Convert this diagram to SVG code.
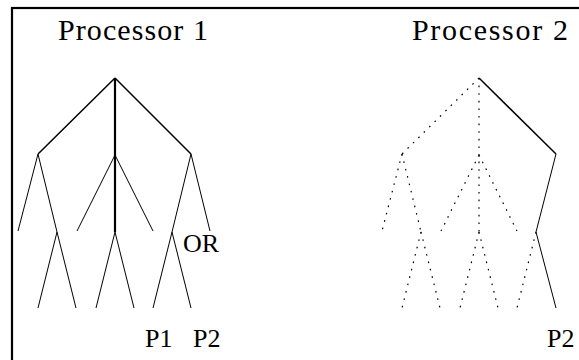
<svg xmlns="http://www.w3.org/2000/svg" width="579" height="360" viewBox="0 0 579 360">
<style>
  .title { font-size: 30px; }
  .lbl { font-size: 26px; }
  .e { stroke: #000; stroke-width: 1; fill: none; stroke-linecap: butt; }
  .e2 { stroke: #000; stroke-width: 1.5; fill: none; }
  .e3 { stroke: #000; stroke-width: 2.2; fill: none; }
  .d { stroke: #000; stroke-width: 1.2; fill: none; stroke-dasharray: 1.6 6; }
</style>
<rect width="579" height="360" fill="#fff"/>
<rect id="frame" x="12" y="8" width="640" height="420" fill="none" stroke="#000" stroke-width="2.2"/>

<g font-family="'Liberation Serif', 'DejaVu Serif', serif" fill="#000">
<g id="processor1-title"><text class="title" x="58" y="40" textLength="150" lengthAdjust="spacing">Processor 1</text></g>
<g id="processor2-title"><text class="title" x="412" y="40" textLength="156" lengthAdjust="spacing">Processor 2</text></g>
<g id="or-label"><text class="lbl" x="183" y="252">OR</text></g>
<g id="p1-label"><text class="lbl" x="145" y="347">P1</text></g>
<g id="p2-label"><text class="lbl" x="193" y="347">P2</text></g>
<g id="p2-label-b"><text class="lbl" x="547" y="347">P2</text></g>
</g>

<g id="connectors">
  <g id="tree1">
    <path class="e2" d="M115,78 L38,154 M115,78 L191,154"/>
    <path class="e3" d="M115,78 L115,232"/>
    <path class="e" d="M38,154 L18,231 M38,154 L57,232 M57,232 L38,308 M57,232 L76,308
      M115,155 L77,231 M115,155 L153,231 M115,232 L96,308 M115,232 L134,308
      M191,154 L172,232 M191,154 L210,231 M172,232 L153,308 M172,232 L191,308"/>
  </g>
  <g id="tree2">
    <path class="d" d="M479,78 L402,154 M479,78 L479,155 L479,232
      M402,154 L382,231 M402,154 L421,232 M421,232 L402,308 M421,232 L440,308
      M479,155 L441,231 M479,155 L517,231 M479,232 L460,308 M479,232 L498,308
      M536,232 L517,308"/>
    <path class="e2" d="M479,78 L556,154"/>
    <path class="e" d="M556,154 L536,232 L556,308"/>
  </g>
</g>
</svg>
